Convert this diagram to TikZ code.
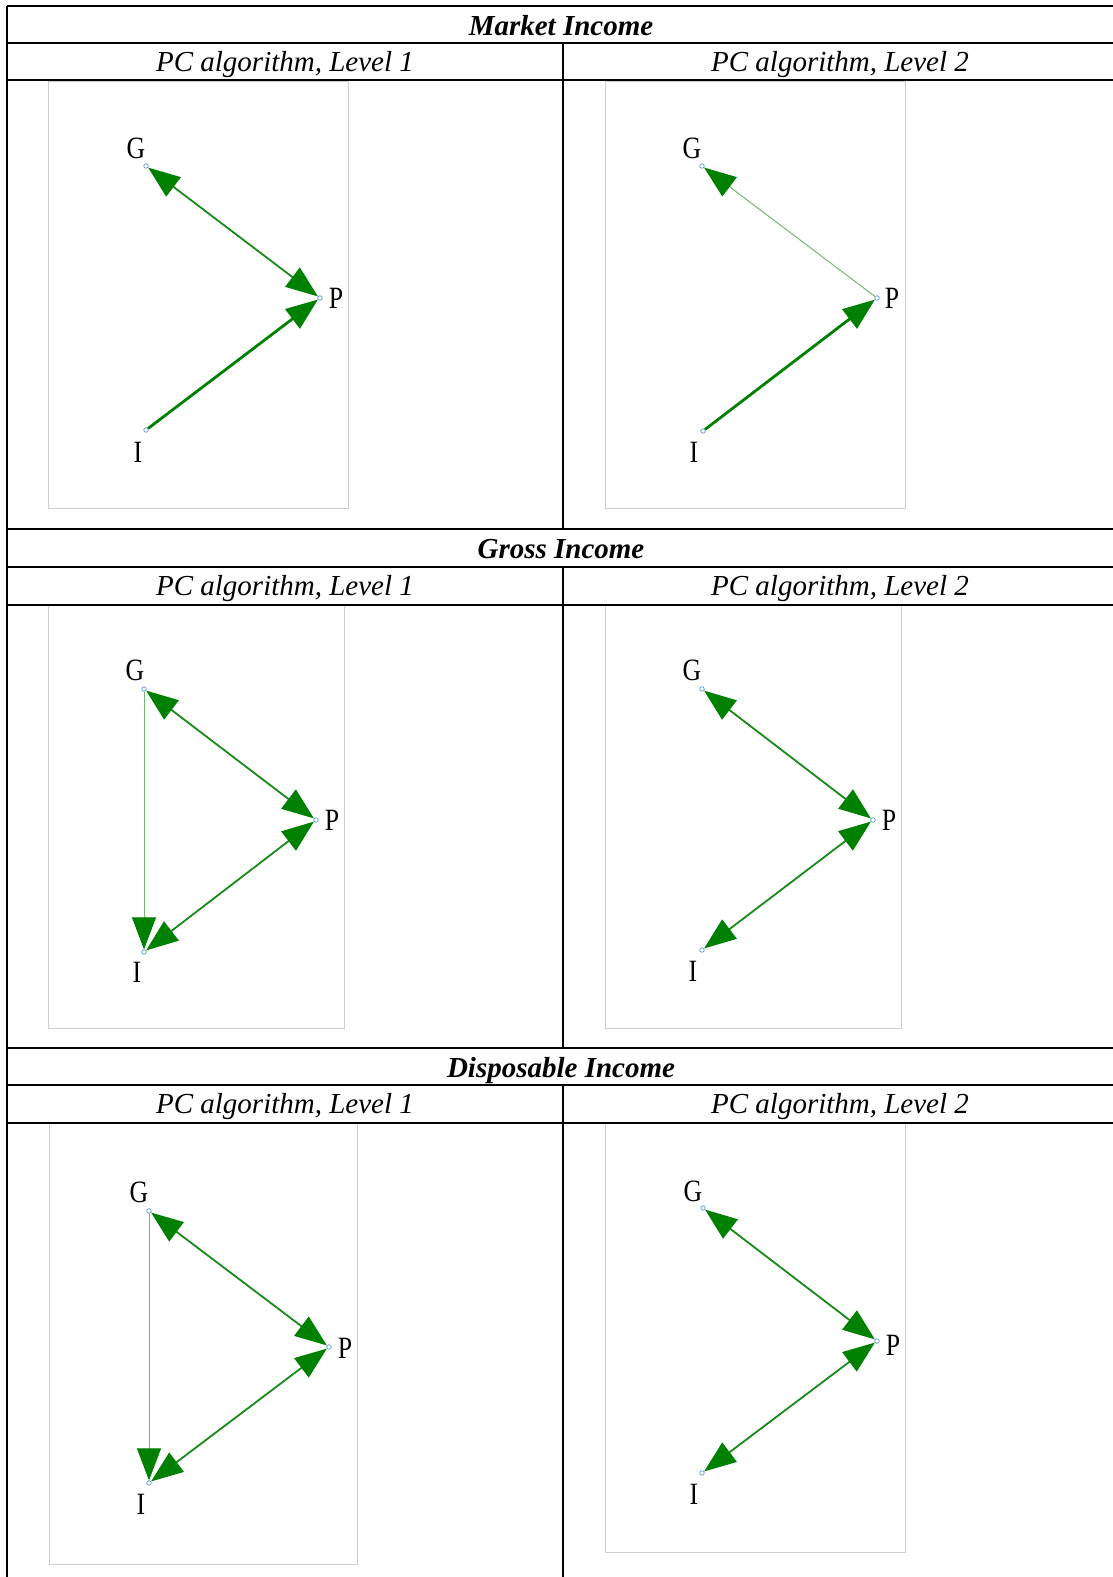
\documentclass[tikz,border=0pt]{standalone}
\usepackage{fontspec}
\setmainfont{Liberation Serif}
\usetikzlibrary{arrows.meta}
\definecolor{hg}{RGB}{0,128,0}
\definecolor{lg}{RGB}{115,185,115}
\definecolor{mg}{RGB}{25,138,25}
\definecolor{dotc}{RGB}{90,150,210}
\definecolor{boxc}{RGB}{205,205,205}
\begin{document}
\begin{tikzpicture}[x=1pt,y=-1pt,
  rule/.style={line width=2.2pt, black},
  frame/.style={draw=boxc, line width=1pt},
  vtx/.style={circle, draw=dotc, fill=white, inner sep=0pt, minimum size=4.5pt, line width=0.7pt},
  lab/.style={font=\fontsize{31}{32}\selectfont, inner sep=0pt},
  ttl/.style={font=\fontsize{29}{30}\selectfont\bfseries\itshape, inner sep=0pt, anchor=base},
  sub/.style={font=\fontsize{29}{30}\selectfont\itshape, inner sep=0pt, anchor=base},
  >={Triangle[length=32pt,width=24pt,color=hg]},
  thin/.style={lg, line width=1pt},
  med/.style={mg, line width=1.8pt},
  thk/.style={hg, line width=2.8pt},
]
\useasboundingbox (0,0) rectangle (1113,1577);
\fill[white] (0,0) rectangle (1113,1577);

% image frames
\draw[frame] (48,81) rectangle (348,508);
\draw[frame] (605,81) rectangle (905,508);
\draw[frame] (48,605) rectangle (344,1028);
\draw[frame] (605,605) rectangle (901,1028);
\draw[frame] (49,1123) rectangle (357,1564);
\draw[frame] (605,1123) rectangle (905,1552);

% table rules
\foreach \yy in {6,43,80,529,567,605,1048,1085,1123}
  \draw[rule] (7,\yy) -- (1113,\yy);
\draw[rule] (7,6) -- (7,1577);
\draw[rule] (563,43) -- (563,529);
\draw[rule] (563,567) -- (563,1048);
\draw[rule] (563,1085) -- (563,1577);

% headers
\node[ttl] (h1) at (561,35) {Market Income};
\node[sub] (s1a) at (285,71) {PC algorithm, Level 1};
\node[sub] (s1b) at (840,71) {PC algorithm, Level 2};
\node[ttl] (h2) at (561,558) {Gross Income};
\node[sub] (s2a) at (285,595) {PC algorithm, Level 1};
\node[sub] (s2b) at (840,595) {PC algorithm, Level 2};
\node[ttl] (h3) at (561,1077) {Disposable Income};
\node[sub] (s3a) at (285,1113) {PC algorithm, Level 1};
\node[sub] (s3b) at (840,1113) {PC algorithm, Level 2};

% ---------- Row 1 left
\node[vtx] (g1) at (146,166) {};
\node[vtx] (p1) at (320,298) {};
\node[vtx] (i1) at (146,430) {};
\node[lab] (lg1) at (136,148) {\scalebox{0.83}[1]{G}};
\node[lab] (lp1) at (336,298) {\scalebox{0.83}[1]{P}};
\node[lab] (li1) at (138,452) {\scalebox{0.83}[1]{I}};
\draw[med,<->] (g1) -- (p1);
\draw[thk,->] (i1) -- (p1);

% ---------- Row 1 right
\node[vtx] (g2) at (702,166) {};
\node[vtx] (p2) at (877,298) {};
\node[vtx] (i2) at (703,431) {};
\node[lab] (lg2) at (692,148) {\scalebox{0.83}[1]{G}};
\node[lab] (lp2) at (892,298) {\scalebox{0.83}[1]{P}};
\node[lab] (li2) at (694,452) {\scalebox{0.83}[1]{I}};
\draw[thin,->] (p2) -- (g2);
\draw[thk,->] (i2) -- (p2);

% ---------- Row 2 left
\node[vtx] (g3) at (144,689) {};
\node[vtx] (p3) at (316,820) {};
\node[vtx] (i3) at (144,952) {};
\node[lab] (lg3) at (135,670) {\scalebox{0.83}[1]{G}};
\node[lab] (lp3) at (332,820) {\scalebox{0.83}[1]{P}};
\node[lab] (li3) at (137,972) {\scalebox{0.83}[1]{I}};
\draw[med,<->] (g3) -- (p3);
\draw[thin,->] (g3) -- (i3);
\draw[med,<->] (p3) -- (i3);

% ---------- Row 2 right
\node[vtx] (g4) at (702,689) {};
\node[vtx] (p4) at (873,820) {};
\node[vtx] (i4) at (702,950) {};
\node[lab] (lg4) at (692,670) {\scalebox{0.83}[1]{G}};
\node[lab] (lp4) at (889,820) {\scalebox{0.83}[1]{P}};
\node[lab] (li4) at (693,971) {\scalebox{0.83}[1]{I}};
\draw[med,<->] (g4) -- (p4);
\draw[med,<->] (p4) -- (i4);

% ---------- Row 3 left
\node[vtx] (g5) at (149,1211) {};
\node[vtx] (p5) at (329,1347) {};
\node[vtx] (i5) at (149,1483) {};
\node[lab] (lg5) at (139,1192) {\scalebox{0.83}[1]{G}};
\node[lab] (lp5) at (345,1348) {\scalebox{0.83}[1]{P}};
\node[lab] (li5) at (141,1504) {\scalebox{0.83}[1]{I}};
\draw[med,<->] (g5) -- (p5);
\draw[thin,->] (g5) -- (i5);
\draw[med,<->] (p5) -- (i5);

% ---------- Row 3 right
\node[vtx] (g6) at (703,1208) {};
\node[vtx] (p6) at (877,1341) {};
\node[vtx] (i6) at (702,1473) {};
\node[lab] (lg6) at (693,1191) {\scalebox{0.83}[1]{G}};
\node[lab] (lp6) at (893,1345) {\scalebox{0.83}[1]{P}};
\node[lab] (li6) at (694,1494) {\scalebox{0.83}[1]{I}};
\draw[med,<->] (g6) -- (p6);
\draw[med,<->] (p6) -- (i6);
\end{tikzpicture}
\end{document}
